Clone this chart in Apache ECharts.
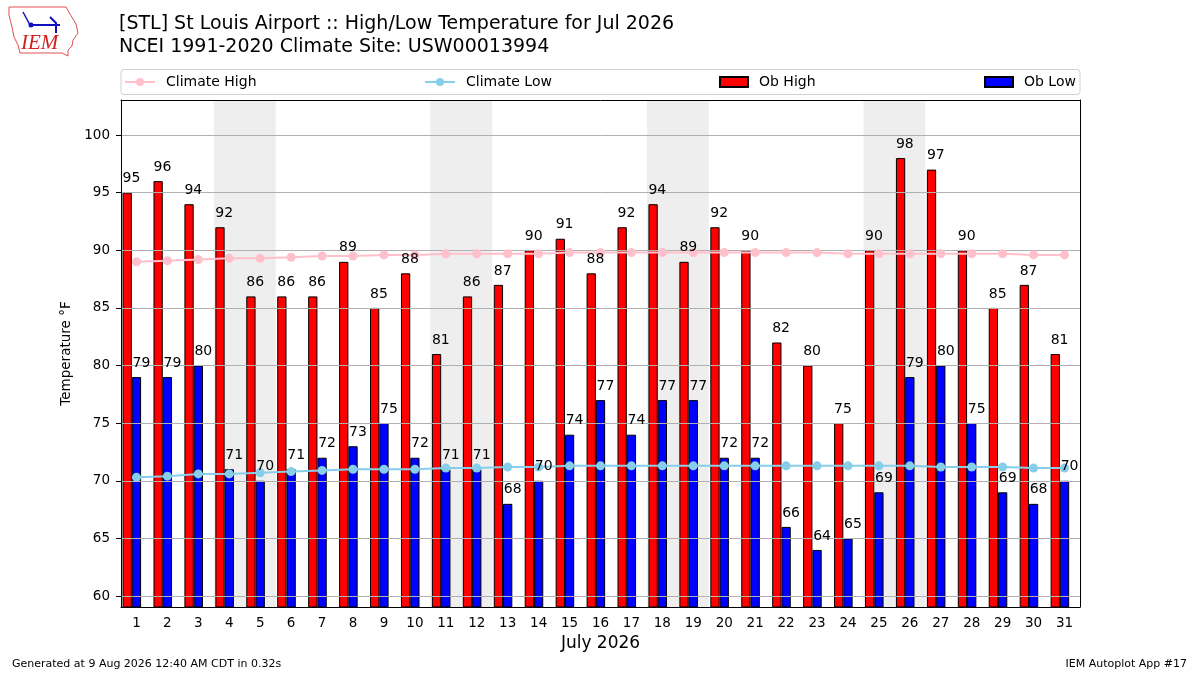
<!DOCTYPE html>
<html lang="en">
<head>
    <meta charset="UTF-8">
    <title>STL High/Low Temperature Jul 2026</title>
    <script src="https://cdn.jsdelivr.net/npm/echarts@6/dist/echarts.min.js"></script>
    <style>
        html, body { margin: 0; padding: 0; background: #fff; }
        #main { width: 1200px; height: 675px; }
    </style>
</head>
<body>
<div id="main"></div>
<script>
    // data
    var days = ['1','2','3','4','5','6','7','8','9','10','11','12','13','14','15','16',
        '17','18','19','20','21','22','23','24','25','26','27','28','29','30','31'];
    var obHigh = [95,96,94,92,86,86,86,89,85,88,81,86,87,90,91,88,92,94,89,92,90,82,80,75,90,98,97,90,85,87,81];
    var obLow = [79,79,80,71,70,71,72,73,75,72,71,71,68,70,74,77,74,77,77,72,72,66,64,65,69,79,80,75,69,68,70];
    var climateHigh = [89.0,89.1,89.2,89.3,89.3,89.4,89.5,89.5,89.6,89.6,89.7,89.7,89.7,89.7,89.8,89.8,
        89.8,89.8,89.8,89.8,89.8,89.8,89.8,89.7,89.7,89.7,89.7,89.7,89.7,89.6,89.6];
    var climateLow = [70.3,70.4,70.6,70.6,70.7,70.8,70.9,71.0,71.0,71.0,71.1,71.1,71.2,71.2,71.3,71.3,
        71.3,71.3,71.3,71.3,71.3,71.3,71.3,71.3,71.3,71.3,71.2,71.2,71.2,71.1,71.1];
    var weekends = [[4,5],[11,12],[18,19],[25,26]];
    var yTicks = [60,65,70,75,80,85,90,95,100];

    var FONT = '"DejaVu Sans", sans-serif';
    var yMin = 59.05, yMax = 103.04;

    var chart = echarts.init(document.getElementById('main'));

    // weekend bands span the whole day: half a category each side
    var weekendAreas = weekends.map(function (w) {
        return [{xAxis: w[0] - 0.5}, {xAxis: w[1] + 0.5}];
    });
    var gridLines = yTicks.map(function (v) { return {yAxis: v}; });

    function legendFor(name, left, w, icon) {
        var l = {
            data: [name], left: left, top: 75, padding: 0,
            itemWidth: w, itemHeight: 10,
            textStyle: {fontFamily: FONT, fontSize: 14, color: '#000', padding: [0, 0, 0, 6]}
        };
        if (icon) l.icon = icon;
        return l;
    }

    function valueLabels(values, dx) {
        return {
            type: 'scatter', data: values, z: 6, symbolSize: 0, silent: true,
            itemStyle: {opacity: 1},
            label: {show: true, position: 'top', distance: 7, offset: [dx, 0],
                fontFamily: FONT, fontSize: 14, color: '#000'}
        };
    }

    var option = {
        animation: false,
        backgroundColor: '#fff',
        title: {
            text: '[STL] St Louis Airport :: High/Low Temperature for Jul 2026\nNCEI 1991-2020 Climate Site: USW00013994',
            left: 119, top: 13, padding: 0,
            textStyle: {fontFamily: FONT, fontSize: 19, lineHeight: 23, fontWeight: 'normal', color: '#000'}
        },
        legend: [
            legendFor('Climate High', 124, 30),
            legendFor('Climate Low', 424, 30),
            legendFor('Ob High', 719, 28, 'rect'),
            legendFor('Ob Low', 984, 28, 'rect')
        ],
        graphic: [
            // legend frame
            {type: 'rect', shape: {x: 121, y: 69.5, width: 959, height: 25, r: 3},
                style: {fill: 'rgba(255,255,255,0.8)', stroke: '#d0d0d0', lineWidth: 1}, z: -1},
            // IEM logo, rough
            {type: 'polyline', shape: {points: [[9,7],[66,7],[70,14],[76,24],[78,33],[73,40],[72,46],[68,50],[68,56],[62,53],[20,53],[18,45],[14,37],[12,27],[9,15],[9,7]]},
                style: {stroke: '#e05050', lineWidth: 1, fill: null}},
            {type: 'polyline', shape: {points: [[30,25],[60,25]]}, style: {stroke: '#1010c0', lineWidth: 2}},
            {type: 'polyline', shape: {points: [[23,12],[30,25]]}, style: {stroke: '#1010c0', lineWidth: 1.5}},
            {type: 'polyline', shape: {points: [[50,17],[56,23],[56,33]]}, style: {stroke: '#1010c0', lineWidth: 2}},
            {type: 'circle', shape: {cx: 31, cy: 25, r: 2.5}, style: {fill: '#1010c0'}},
            {type: 'text', left: 21, top: 33,
                style: {text: 'IEM', fontFamily: '"Liberation Serif", serif', fontStyle: 'italic', fontSize: 21, fill: '#d02020'}},
            // footer
            {type: 'text', left: 12, top: 659,
                style: {text: 'Generated at 9 Aug 2026 12:40 AM CDT in 0.32s', fontFamily: FONT, fontSize: 11, fill: '#000'}},
            {type: 'text', right: 13, top: 659,
                style: {text: 'IEM Autoplot App #17', fontFamily: FONT, fontSize: 11, fill: '#000'}}
        ],
        grid: {left: 121, right: 120, top: 100, bottom: 68},
        xAxis: [{
            type: 'category',
            data: days,
            boundaryGap: true,
            z: 10,
            name: 'July 2026',
            nameLocation: 'middle',
            nameGap: 27,
            nameTextStyle: {fontFamily: FONT, fontSize: 17, color: '#000'},
            axisLine: {onZero: false, lineStyle: {color: '#000', width: 1}},
            axisTick: {alignWithLabel: true, length: 5, lineStyle: {color: '#000'}},
            axisLabel: {fontFamily: FONT, fontSize: 13.5, color: '#000', margin: 9, interval: 0},
            splitLine: {show: false}
        }, {
            // hidden continuous day axis, used for the weekend bands; also draws the top frame
            type: 'value', position: 'top', min: 0.5, max: 31.5, z: 10,
            axisLine: {show: true, onZero: false, lineStyle: {color: '#000', width: 1}},
            axisTick: {show: false}, axisLabel: {show: false}, splitLine: {show: false}
        }],
        yAxis: [{
            type: 'value',
            min: yMin, max: yMax,
            z: 10,
            name: 'Temperature °F',
            nameLocation: 'middle',
            nameRotate: 90,
            nameGap: 45,
            nameTextStyle: {fontFamily: FONT, fontSize: 13.5, color: '#000'},
            axisLine: {show: true, onZero: false, lineStyle: {color: '#000', width: 1}},
            axisTick: {show: true, length: 5, customValues: yTicks, lineStyle: {color: '#000'}},
            axisLabel: {fontFamily: FONT, fontSize: 13.5, color: '#000', margin: 11, customValues: yTicks},
            splitLine: {show: false}
        }, {
            type: 'value', position: 'right', min: yMin, max: yMax, z: 10,
            axisLine: {show: true, onZero: false, lineStyle: {color: '#000', width: 1}},
            axisTick: {show: false}, axisLabel: {show: false}, splitLine: {show: false}
        }],
        series: [
            {
                type: 'line', xAxisIndex: 1, data: [], silent: true,
                markArea: {silent: true, z: 1, itemStyle: {color: '#eeeeee'}, data: weekendAreas}
            },
            {
                name: 'Ob High', type: 'bar', data: obHigh, z: 2,
                barWidth: '30%', barGap: '0%',
                itemStyle: {color: '#ff0000', borderColor: '#000', borderWidth: 1}
            },
            {
                name: 'Ob Low', type: 'bar', data: obLow, z: 2,
                barWidth: '30%', barGap: '0%',
                itemStyle: {color: '#0000ff', borderColor: '#000', borderWidth: 1}
            },
            {
                // empty third slot so the pair sits left of the tick like the original
                type: 'bar', data: [], barWidth: '30%', barGap: '0%', silent: true
            },
            {
                type: 'line', data: [], silent: true,
                markLine: {
                    silent: true, z: 3, symbol: 'none', label: {show: false},
                    lineStyle: {color: '#b0b0b0', width: 1, type: 'solid'},
                    emphasis: {disabled: true},
                    data: gridLines
                }
            },
            {
                name: 'Climate High', type: 'line', data: climateHigh, z: 4,
                symbol: 'circle', symbolSize: 9,
                lineStyle: {color: '#ffc0cb', width: 2},
                itemStyle: {color: '#ffc0cb'}
            },
            {
                name: 'Climate Low', type: 'line', data: climateLow, z: 4,
                symbol: 'circle', symbolSize: 9,
                lineStyle: {color: '#87ceeb', width: 2},
                itemStyle: {color: '#87ceeb'}
            },
            valueLabels(obHigh, -5),
            valueLabels(obLow, 5)
        ]
    };
    chart.setOption(option);
</script>
</body>
</html>
